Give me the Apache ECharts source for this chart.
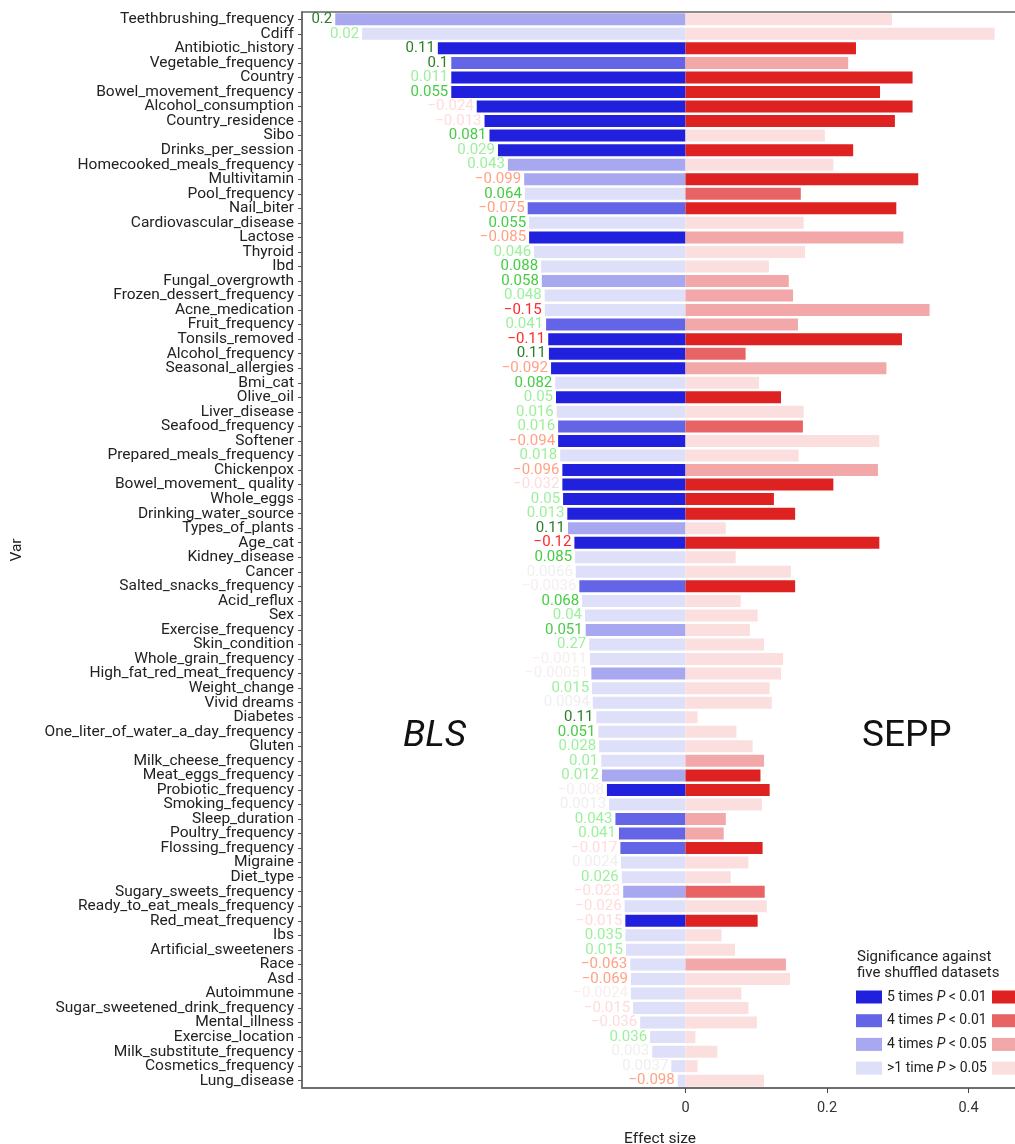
<!DOCTYPE html>
<html>
<head>
<meta charset="utf-8">
<script src="https://cdn.jsdelivr.net/npm/echarts@6/dist/echarts.min.js"></script>
<style>
html,body{margin:0;padding:0;background:#fff;overflow:hidden;}
#chart{width:1015px;height:1144px;}
</style>
</head>
<body>
<div id="chart"></div>
<script>
const categories = ["Teethbrushing_frequency","Cdiff","Antibiotic_history","Vegetable_frequency","Country","Bowel_movement_frequency","Alcohol_consumption","Country_residence","Sibo","Drinks_per_session","Homecooked_meals_frequency","Multivitamin","Pool_frequency","Nail_biter","Cardiovascular_disease","Lactose","Thyroid","Ibd","Fungal_overgrowth","Frozen_dessert_frequency","Acne_medication","Fruit_frequency","Tonsils_removed","Alcohol_frequency","Seasonal_allergies","Bmi_cat","Olive_oil","Liver_disease","Seafood_frequency","Softener","Prepared_meals_frequency","Chickenpox","Bowel_movement_ quality","Whole_eggs","Drinking_water_source","Types_of_plants","Age_cat","Kidney_disease","Cancer","Salted_snacks_frequency","Acid_reflux","Sex","Exercise_frequency","Skin_condition","Whole_grain_frequency","High_fat_red_meat_frequency","Weight_change","Vivid dreams","Diabetes","One_liter_of_water_a_day_frequency","Gluten","Milk_cheese_frequency","Meat_eggs_frequency","Probiotic_frequency","Smoking_fequency","Sleep_duration","Poultry_frequency","Flossing_frequency","Migraine","Diet_type","Sugary_sweets_frequency","Ready_to_eat_meals_frequency","Red_meat_frequency","Ibs","Artificial_sweeteners","Race","Asd","Autoimmune","Sugar_sweetened_drink_frequency","Mental_illness","Exercise_location","Milk_substitute_frequency","Cosmetics_frequency","Lung_disease"];

// BLS effect sizes (drawn to the left)
const blsValues = [0.495,0.457,0.350,0.331,0.331,0.331,0.295,0.284,0.277,0.265,0.251,0.228,0.227,0.223,0.221,0.221,0.214,0.204,0.203,0.199,0.199,0.197,0.194,0.193,0.190,0.184,0.183,0.182,0.180,0.180,0.177,0.174,0.174,0.173,0.167,0.166,0.157,0.156,0.155,0.150,0.146,0.142,0.141,0.136,0.135,0.133,0.132,0.131,0.126,0.123,0.122,0.119,0.118,0.111,0.108,0.099,0.094,0.092,0.091,0.090,0.088,0.086,0.085,0.085,0.084,0.078,0.077,0.077,0.074,0.064,0.050,0.047,0.020,0.011];
// SEPP effect sizes (drawn to the right)
const seppValues = [0.292,0.437,0.241,0.230,0.321,0.275,0.321,0.296,0.197,0.237,0.209,0.329,0.163,0.298,0.167,0.308,0.169,0.118,0.146,0.152,0.345,0.159,0.306,0.085,0.284,0.104,0.135,0.167,0.166,0.274,0.160,0.272,0.209,0.125,0.155,0.057,0.274,0.071,0.149,0.155,0.078,0.102,0.091,0.111,0.138,0.135,0.119,0.122,0.017,0.072,0.095,0.111,0.106,0.119,0.108,0.057,0.054,0.109,0.089,0.064,0.112,0.115,0.102,0.051,0.070,0.142,0.148,0.079,0.089,0.101,0.014,0.045,0.017,0.111];
// significance level: 3 = 5 times P<0.01, 2 = 4 times P<0.01, 1 = 4 times P<0.05, 0 = >1 time P>0.05
const blsSignif = [1,0,3,2,3,3,3,3,3,3,1,1,0,2,0,3,0,0,1,0,0,2,3,3,3,0,3,0,2,3,0,3,3,3,3,1,3,0,0,2,0,0,1,0,0,1,0,0,0,0,0,0,1,3,0,2,2,2,0,0,1,0,3,0,0,0,0,0,0,0,0,0,0,0];
const seppSignif = [0,0,3,1,3,3,3,3,0,3,0,3,2,3,0,1,0,0,1,1,1,1,3,2,1,0,3,0,2,0,0,1,3,3,3,0,3,0,0,3,0,0,0,0,0,0,0,0,0,0,0,1,3,3,0,1,1,3,0,0,2,0,3,0,0,1,0,0,0,0,0,0,0,0];
// correlation labels shown beside BLS bars
const corrLabels = ["0.2","0.02","0.11","0.1","0.011","0.055","-0.024","-0.013","0.081","0.029","0.043","-0.099","0.064","-0.075","0.055","-0.085","0.046","0.088","0.058","0.048","-0.15","0.041","-0.11","0.11","-0.092","0.082","0.05","0.016","0.016","-0.094","0.018","-0.096","-0.032","0.05","0.013","0.11","-0.12","0.085","0.0066","-0.0036","0.068","0.04","0.051","0.27","-0.0011","-0.00051","0.015","0.0094","0.11","0.051","0.028","0.01","0.012","-0.008","0.0013","0.043","0.041","-0.017","0.0024","0.026","-0.023","-0.026","-0.015","0.035","0.015","-0.063","-0.069","-0.0024","-0.015","-0.036","0.036","0.003","0.0037","-0.098"];
// strength level of the correlation label (0 faint .. 3 strong)
const corrLevel = [3,1,3,3,1,2,1,1,2,1,1,2,2,2,2,2,1,2,2,1,3,1,3,3,2,2,1,1,1,2,1,2,1,1,1,3,3,2,0,0,2,1,2,1,0,0,1,0,3,2,1,1,1,0,0,1,1,1,0,1,1,1,1,1,1,2,2,0,1,1,1,0,0,2];
const xTicks = [0, 0.2, 0.4];
const legendLabels = ["5 times", "4 times", "4 times", ">1 time"];
const legendTests = ["< 0.01", "< 0.01", "< 0.05", "> 0.05"];

const blueColors = ['#dedff8', '#a8a8f0', '#6464e6', '#2121dd'];
const redColors = ['#fbdfdf', '#f2a8a8', '#e86464', '#de2121'];
const posLabelColors = ['#efefef', '#9cf09c', '#46cc46', '#2b7f2b'];
const negLabelColors = ['#f7eeee', '#ffdcdc', '#ffa285', '#ff2a2a'];

const FONT = 'Roboto';

const blsData = blsValues.map((v, i) => {
  const neg = corrLabels[i].startsWith('-');
  return {
    value: -v,
    itemStyle: { color: blueColors[blsSignif[i]] },
    label: { color: (neg ? negLabelColors : posLabelColors)[corrLevel[i]] }
  };
});
const seppData = seppValues.map((v, i) => ({
  value: v,
  itemStyle: { color: redColors[seppSignif[i]] }
}));

const chart = echarts.init(document.getElementById('chart'), null, { renderer: 'canvas' });

const legendGraphics = [];
legendGraphics.push({
  type: 'text', left: 857, top: 949,
  style: { text: 'Significance against\nfive shuffled datasets', font: '15px ' + FONT, fill: '#222', lineHeight: 16 }
});
legendLabels.forEach((lab, k) => {
  const lvl = 3 - k;
  const cy = 997 + k * 23.7;
  legendGraphics.push({ type: 'rect', shape: { x: 856, y: cy - 6.5, width: 26, height: 13 }, style: { fill: blueColors[lvl] } });
  legendGraphics.push({ type: 'rect', shape: { x: 992, y: cy - 6.5, width: 30, height: 13 }, style: { fill: redColors[lvl] } });
  legendGraphics.push({
    type: 'text', x: 887, y: cy,
    style: {
      text: '{n|' + lab + ' }{i|P}{n| ' + legendTests[k] + '}',
      verticalAlign: 'middle',
      rich: {
        n: { font: '14px ' + FONT, fill: '#222' },
        i: { font: 'italic 14px ' + FONT, fill: '#222' }
      }
    }
  });
});

const option = {
  animation: false,
  textStyle: { fontFamily: FONT },
  grid: { left: 302, right: -3, top: 12, bottom: 56, outerBoundsMode: 'none', containLabel: false,
    show: true, borderColor: '#666', borderWidth: 1.5 },
  xAxis: {
    type: 'value', min: -0.542, max: 0.47,
    name: 'Effect size', nameLocation: 'middle', nameGap: 43,
    nameTextStyle: { fontSize: 15.5, color: '#222', fontFamily: FONT },
    splitLine: { show: false },
    axisLine: { show: true, onZero: false, lineStyle: { color: '#666', width: 1.5 } },
    axisTick: { show: true, customValues: xTicks, length: 5, lineStyle: { color: '#444' } },
    axisLabel: { customValues: xTicks, fontSize: 14.5, color: '#333', margin: 13,
      formatter: v => String(Math.round(v * 10) / 10) }
  },
  yAxis: {
    type: 'category', data: categories, inverse: true,
    name: 'Var', nameLocation: 'middle', nameGap: 277, nameRotate: 90,
    nameTextStyle: { fontSize: 15.5, color: '#222', fontFamily: FONT },
    axisLine: { show: true, onZero: false, lineStyle: { color: '#666', width: 1.5 } },
    axisTick: { show: true, alignWithLabel: true, length: 4, lineStyle: { color: '#555' } },
    axisLabel: { fontSize: 15.5, color: '#222', margin: 8, interval: 0 }
  },
  series: [
    {
      name: 'BLS', type: 'bar', data: blsData, barWidth: 12, barGap: '-100%',
      label: {
        show: true, position: 'left', distance: 3, fontSize: 15, fontFamily: FONT,
        formatter: p => corrLabels[p.dataIndex].replace('-', '\u2212')
      }
    },
    {
      name: 'SEPP', type: 'bar', data: seppData, barWidth: 12, barGap: '-100%'
    }
  ],
  graphic: [
    { type: 'text', left: 403, top: 718, style: { text: 'BLS', font: 'italic 37px ' + FONT, fill: '#111' } },
    { type: 'text', left: 862, top: 718, style: { text: 'SEPP', font: '37px ' + FONT, fill: '#111' } }
  ].concat(legendGraphics)
};
chart.setOption(option);
</script>
</body>
</html>
